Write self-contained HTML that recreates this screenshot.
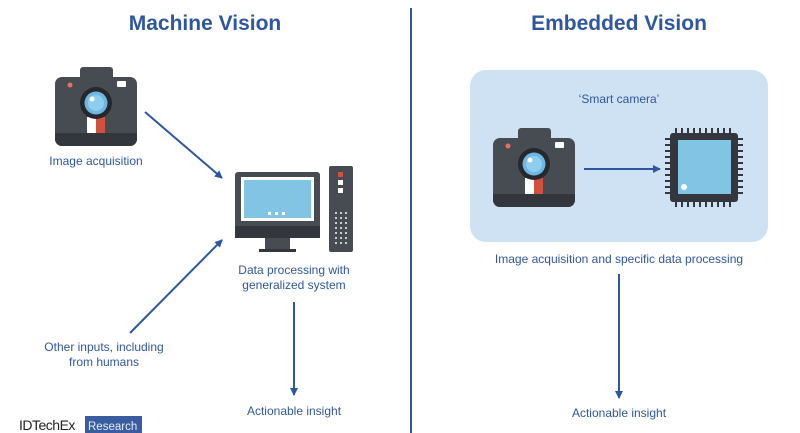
<!DOCTYPE html>
<html><head><meta charset="utf-8"><style>
html,body{margin:0;padding:0;background:#fff;}
svg{display:block;font-family:"Liberation Sans",sans-serif;}
</style></head><body>
<svg width="800" height="433" viewBox="0 0 800 433" xmlns="http://www.w3.org/2000/svg">
<defs>
<marker id="ah" markerWidth="8" markerHeight="8" refX="7" refY="4" orient="auto" markerUnits="userSpaceOnUse">
<path d="M0,0 L8,4 L0,8 z" fill="#2f57a0"/></marker>
<g id="cam">
<rect x="25" y="0" width="33" height="14" rx="3" fill="#474c53"/>
<rect x="0" y="10" width="82" height="69" rx="7" fill="#474c53"/>
<path d="M0,66 H82 V72 a7,7 0 0 1 -7,7 H7 a7,7 0 0 1 -7,-7 z" fill="#33373d"/>
<rect x="32" y="50" width="9" height="16" fill="#fff"/>
<rect x="41" y="50" width="9" height="16" fill="#d2513c"/>
<circle cx="41" cy="36" r="16" fill="#25292e"/>
<circle cx="41" cy="36" r="11.5" fill="#6fb7e0"/>
<circle cx="41" cy="36" r="8" fill="#8fcdef"/>
<circle cx="37" cy="32" r="2.5" fill="#fff"/>
<circle cx="15" cy="18" r="2.5" fill="#e07462"/>
<rect x="62" y="14" width="9" height="6" rx="1" fill="#fff"/>
</g>
</defs>
<line x1="411" y1="8" x2="411" y2="433" stroke="#2f57a0" stroke-width="2"/>
<text x="205" y="30" text-anchor="middle" font-size="21" font-weight="bold" fill="#2f57a0">Machine Vision</text>
<text x="619" y="30" text-anchor="middle" font-size="21" font-weight="bold" fill="#2f57a0">Embedded Vision</text>

<use href="#cam" x="55" y="67"/>
<text x="96" y="165" text-anchor="middle" font-size="12" fill="#2f57a0">Image acquisition</text>

<rect x="235" y="172" width="85" height="66" rx="3" fill="#474c53"/>
<rect x="235" y="226" width="85" height="12" fill="#33373d"/>
<rect x="241" y="177" width="73" height="44" fill="#fff"/>
<rect x="244" y="180" width="67" height="38" fill="#82c4e3"/>
<rect x="268" y="212" width="3" height="3" fill="#fff"/><rect x="275" y="212" width="3" height="3" fill="#fff"/><rect x="282" y="212" width="3" height="3" fill="#fff"/>
<rect x="265" y="238" width="25" height="12" fill="#474c53"/>
<rect x="259" y="249" width="37" height="3" fill="#33373d"/>
<rect x="329" y="166" width="24" height="86" rx="2" fill="#474c53"/>
<rect x="338" y="172" width="5" height="5" fill="#d2513c"/>
<rect x="338" y="180" width="5" height="5" fill="#fff"/>
<rect x="338" y="188" width="5" height="5" fill="#fff"/>
<g fill="#c9ccd0">
<rect x="335" y="212" width="2" height="2"/><rect x="340" y="212" width="2" height="2"/><rect x="345" y="212" width="2" height="2"/>
<rect x="335" y="217" width="2" height="2"/><rect x="340" y="217" width="2" height="2"/><rect x="345" y="217" width="2" height="2"/>
<rect x="335" y="222" width="2" height="2"/><rect x="340" y="222" width="2" height="2"/><rect x="345" y="222" width="2" height="2"/>
<rect x="335" y="227" width="2" height="2"/><rect x="340" y="227" width="2" height="2"/><rect x="345" y="227" width="2" height="2"/>
<rect x="335" y="232" width="2" height="2"/><rect x="340" y="232" width="2" height="2"/><rect x="345" y="232" width="2" height="2"/>
<rect x="335" y="237" width="2" height="2"/><rect x="340" y="237" width="2" height="2"/><rect x="345" y="237" width="2" height="2"/>
<rect x="335" y="242" width="2" height="2"/><rect x="340" y="242" width="2" height="2"/><rect x="345" y="242" width="2" height="2"/>
</g>
<text x="294" y="274" text-anchor="middle" font-size="12" fill="#2f57a0">Data processing with</text>
<text x="294" y="289" text-anchor="middle" font-size="12" fill="#2f57a0">generalized system</text>

<line x1="145" y1="112" x2="222" y2="178" stroke="#2f57a0" stroke-width="2" marker-end="url(#ah)"/>
<line x1="130" y1="333" x2="222" y2="240" stroke="#2f57a0" stroke-width="2" marker-end="url(#ah)"/>
<line x1="294" y1="302" x2="294" y2="395" stroke="#2f57a0" stroke-width="2" marker-end="url(#ah)"/>

<text x="104" y="351" text-anchor="middle" font-size="12" fill="#2f57a0">Other inputs, including</text>
<text x="104" y="366" text-anchor="middle" font-size="12" fill="#2f57a0">from humans</text>
<text x="294" y="415" text-anchor="middle" font-size="12" fill="#2f57a0">Actionable insight</text>

<text x="19" y="430" font-size="14" fill="#222" letter-spacing="-0.5">IDTechEx</text>
<rect x="85" y="416" width="57" height="17" fill="#3a5da0"/>
<text x="88" y="430" font-size="11.5" fill="#e6ecf7">Research</text>

<rect x="470" y="70" width="298" height="172" rx="16" fill="#cfe2f3"/>
<text x="619" y="103" text-anchor="middle" font-size="12" fill="#2f57a0">‘Smart camera’</text>
<use href="#cam" x="493" y="128"/>
<line x1="584" y1="169" x2="660" y2="169" stroke="#2f57a0" stroke-width="2" marker-end="url(#ah)"/>
<g stroke="#33373d" stroke-width="2">
<path d="M676,128v5M682,128v5M688,128v5M694,128v5M700,128v5M706,128v5M712,128v5M718,128v5M724,128v5M730,128v5"/>
<path d="M676,202v5M682,202v5M688,202v5M694,202v5M700,202v5M706,202v5M712,202v5M718,202v5M724,202v5M730,202v5"/>
<path d="M665,139h5M665,145h5M665,151h5M665,157h5M665,163h5M665,169h5M665,175h5M665,181h5M665,187h5M665,193h5"/>
<path d="M738,139h5M738,145h5M738,151h5M738,157h5M738,163h5M738,169h5M738,175h5M738,181h5M738,187h5M738,193h5"/>
</g>
<rect x="670" y="133" width="68" height="69" rx="3" fill="#33373d"/>
<rect x="678" y="140" width="53" height="54" fill="#82c4e3"/>
<circle cx="684" cy="187" r="3" fill="#fff"/>

<text x="619" y="263" text-anchor="middle" font-size="12" fill="#2f57a0">Image acquisition and specific data processing</text>
<line x1="619" y1="274" x2="619" y2="398" stroke="#2f57a0" stroke-width="2" marker-end="url(#ah)"/>
<text x="619" y="417" text-anchor="middle" font-size="12" fill="#2f57a0">Actionable insight</text>
</svg>
</body></html>
